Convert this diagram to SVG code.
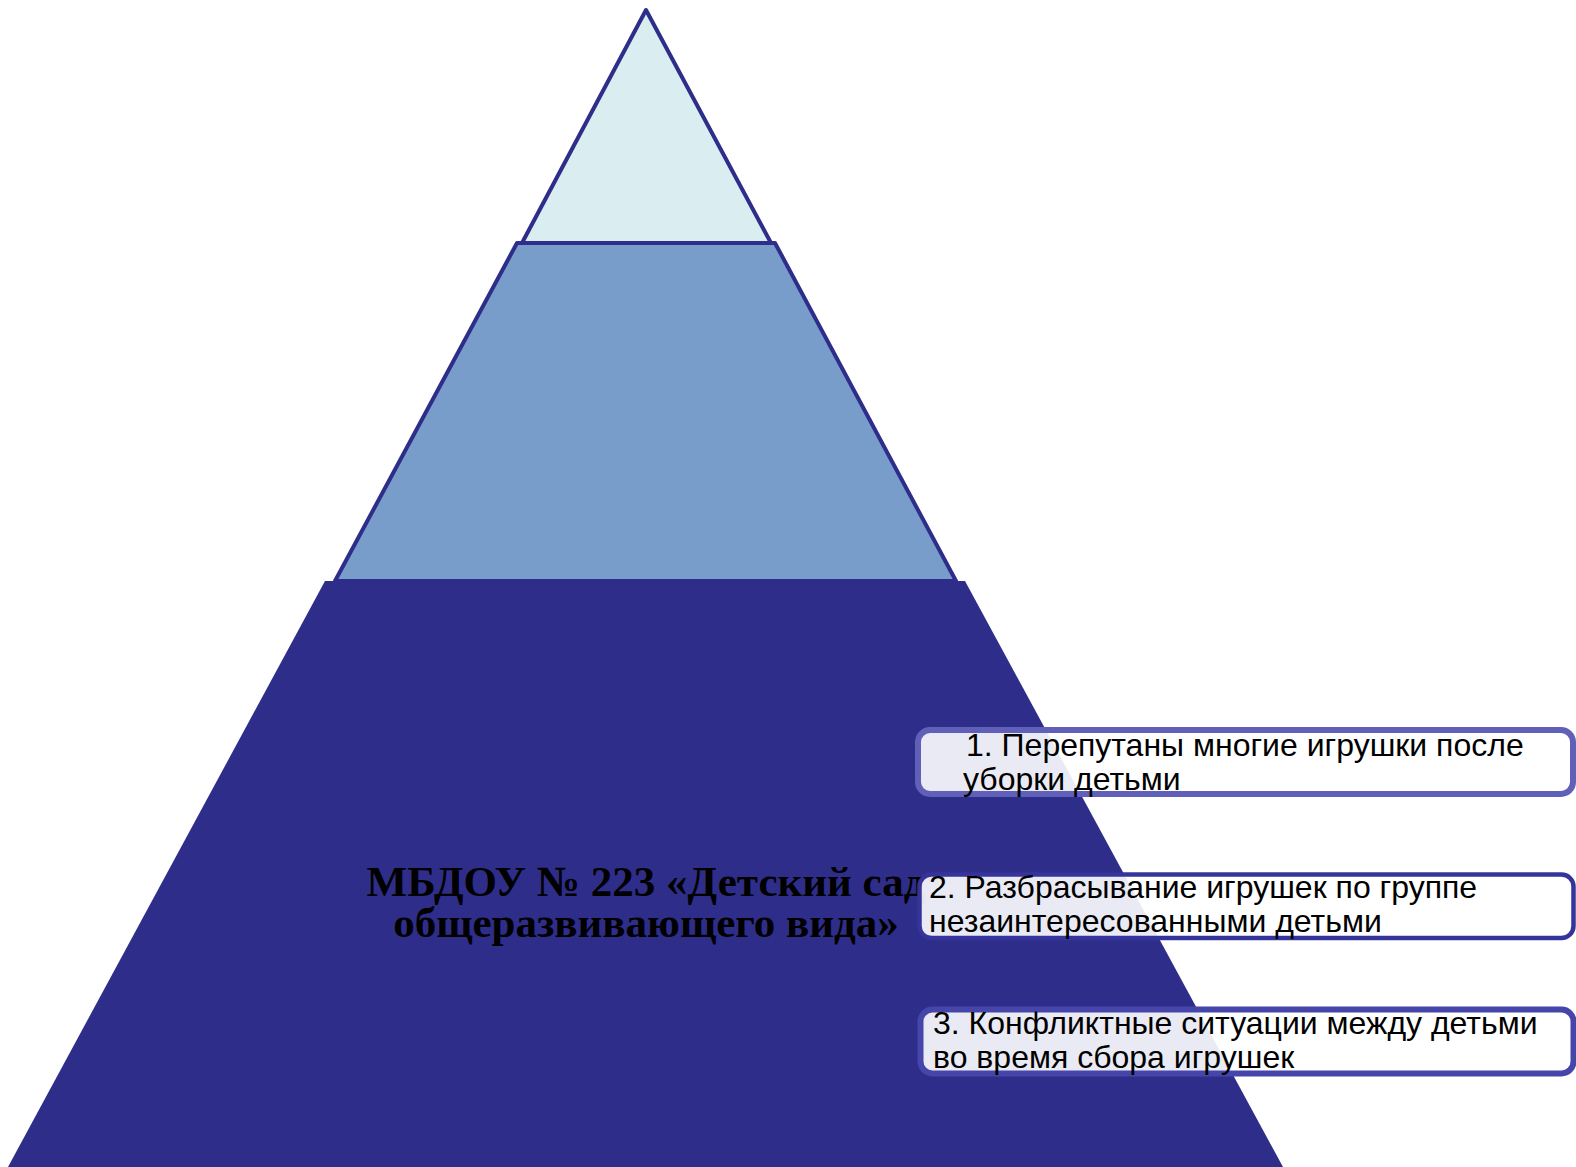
<svg xmlns="http://www.w3.org/2000/svg" width="1576" height="1167" viewBox="0 0 1576 1167">
<style>
.lvl{stroke:#2e2e8a;stroke-width:4;stroke-linejoin:round}
.box{fill:#ffffff;fill-opacity:0.9}
.bt{font-family:"Liberation Sans",Arial,sans-serif;font-size:32px;fill:#000}
.title{font-family:"Liberation Serif","Times New Roman",serif;font-weight:bold;font-size:43px;fill:#000;text-anchor:middle}
</style>
<rect width="1576" height="1167" fill="#ffffff"/>
<g id="level-top">
<polygon class="lvl" points="646,10 522,243 771,243" fill="#daedf0"/>
</g>
<g id="level-middle">
<polygon class="lvl" points="517,243 775,243 956,581 335,581" fill="#789dcb"/>
</g>
<g id="level-base">
<polygon points="325,581 965,581 1283,1167 8,1167" fill="#2e2e8a"/>
<text class="title" x="646" y="896">МБДОУ № 223 «Детский сад</text>
<text class="title" x="646" y="937">общеразвивающего вида»</text>
</g>
<g id="connectors"></g>
<g id="item-1">
<rect class="box" x="918" y="730" width="655" height="64" rx="12" stroke="#6060b8" stroke-width="6"/>
<text class="bt" x="966" y="756">1. Перепутаны многие игрушки после</text>
<text class="bt" x="963" y="790">уборки детьми</text>
</g>
<g id="item-2">
<rect class="box" x="919.5" y="874.5" width="654" height="63.5" rx="12" stroke="#34349a" stroke-width="4.5"/>
<text class="bt" x="929" y="898">2. Разбрасывание игрушек по группе</text>
<text class="bt" x="929" y="932">незаинтересованными детьми</text>
</g>
<g id="item-3">
<rect class="box" x="920.5" y="1009.5" width="653" height="64" rx="12" stroke="#4646aa" stroke-width="6"/>
<text class="bt" x="933" y="1034">3. Конфликтные ситуации между детьми</text>
<text class="bt" x="933" y="1068">во время сбора игрушек</text>
</g>
</svg>
